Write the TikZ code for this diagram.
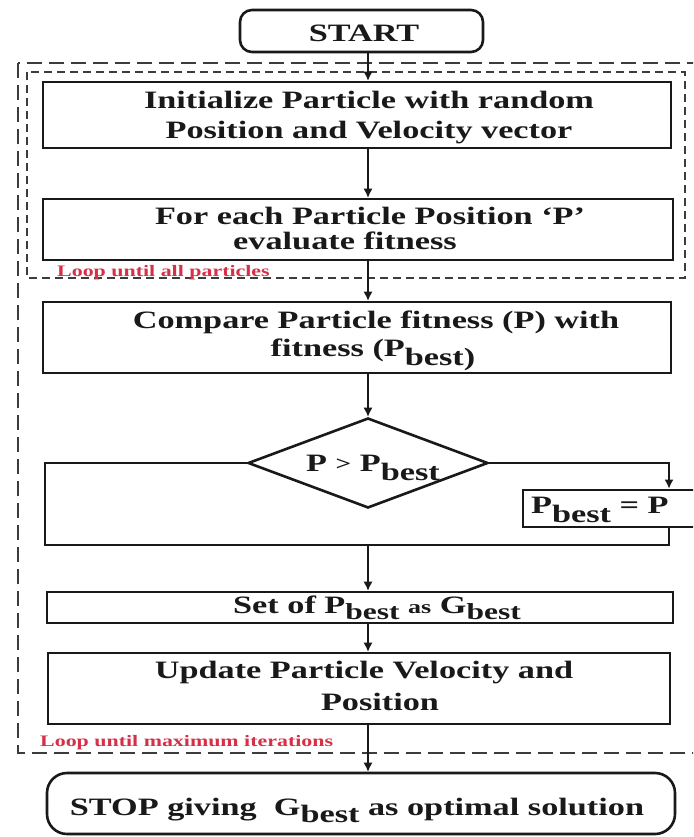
\documentclass[tikz,border=0pt]{standalone}
\usepackage{fontspec}
\setmainfont{Liberation Serif}
\usepackage{graphicx}
\usetikzlibrary{shapes.geometric,arrows.meta}
\definecolor{loopred}{RGB}{214,48,72}
\definecolor{dashgray}{RGB}{60,60,60}
\definecolor{ink}{RGB}{25,25,25}
\newcommand\sx[1]{\scalebox{1.37}[1]{#1}}
\newcommand\lowsub[2]{\raisebox{-#1}{#2}}
\begin{document}
\begin{tikzpicture}[x=1pt,y=-1pt,
  box/.style={draw=ink, line width=2.6pt, rectangle, inner sep=0pt},
  term/.style={draw=ink, line width=2.6pt, rectangle, rounded corners=12pt, inner sep=0pt},
  txt/.style={inner sep=0pt, anchor=base, text=ink, font=\fontsize{25}{30}\selectfont\bfseries},
  redtxt/.style={inner sep=0pt, anchor=base west, text=loopred, font=\fontsize{16}{18}\selectfont\bfseries},
  arr/.style={draw=ink, line width=1.2pt, -{Latex[length=9pt,width=9pt]}},
  loopline/.style={draw=ink, line width=2.6pt},
  outerdash/.style={draw=dashgray, line width=1.5pt, dash pattern=on 15pt off 7pt},
  innerdash/.style={draw=dashgray, line width=1.2pt, dash pattern=on 8pt off 5pt},
]
\useasboundingbox (0,0) rectangle (693,837);
\clip (0,0) rectangle (693,837);
\fill[white] (0,0) rectangle (693,837);

\coordinate (spine) at (368,0);

% dashed loop frames
\draw[outerdash] (18,63) rectangle (715,753);
\draw[innerdash] (27,72) rectangle (685,278);

% START
\node[term, minimum width=243pt, minimum height=42pt] (start) at (361.5,31) {};
\node[txt] (startT) at (364,42) {\sx{START}};

% Initialize
\node[box, minimum width=628pt, minimum height=66pt] (init) at (357,115) {};
\node[txt] (initA) at (369,109) {\sx{Initialize Particle with random}};
\node[txt] (initB) at (369,139) {\sx{Position and Velocity vector}};

% Evaluate
\node[box, minimum width=630pt, minimum height=61pt] (eval) at (358,229.5) {};
\node[txt] (evalA) at (370,224) {\sx{For each Particle Position `P'}};
\node[txt] (evalB) at (345,249) {\sx{evaluate fitness}};
\node[redtxt] (loopA) at (57,276) {\sx{Loop until all particles}};

% Compare
\node[box, minimum width=628pt, minimum height=71pt] (comp) at (357,337.5) {};
\node[txt] (compA) at (376,328) {\sx{Compare Particle fitness (P) with}};
\node[txt] (compB) at (373,356) {\sx{fitness (P\lowsub{9pt}{best)}}};

% Decision
\node[draw=ink, line width=2.6pt, diamond, inner sep=0pt, minimum width=240pt, minimum height=90pt] (dec) at (368,463) {};
\node[txt] (decT) at (373,471) {\sx{P {\fontsize{20}{24}\selectfont\raisebox{1pt}{>}} P\lowsub{9pt}{best}}};

% Pbest = P
\node[box, minimum width=200pt, minimum height=37pt] (pb) at (623,508.5) {};
\node[txt, anchor=base west] (pbT) at (531,513) {\sx{P\lowsub{9pt}{best} = P}};

% Set
\node[box, minimum width=626pt, minimum height=31pt] (set) at (360,607.5) {};
\node[txt] (setT) at (377,613) {\sx{Set of P\lowsub{6pt}{\fontsize{23}{24}\selectfont best} {\fontsize{19}{24}\selectfont as} G\lowsub{6pt}{\fontsize{23}{24}\selectfont best}}};

% Update
\node[box, minimum width=622pt, minimum height=71pt] (upd) at (359,688.5) {};
\node[txt] (updA) at (364,678) {\sx{Update Particle Velocity and}};
\node[txt] (updB) at (380,710) {\sx{Position}};
\node[redtxt] (loopB) at (40,746) {\sx{Loop until maximum iterations}};

% STOP
\node[term, rounded corners=20pt, minimum width=628pt, minimum height=61pt] (stop) at (361,803.5) {};
\node[txt] (stopT) at (357,815) {\sx{STOP giving \ G\lowsub{7pt}{best} as optimal solution}};

% loop around decision
\coordinate (LT) at (45,463);
\coordinate (LL) at (45,545);
\coordinate (LR) at (669,545);
\coordinate (RT) at (669,463);
\coordinate (LB) at (368,545);
\draw[loopline] (dec.west) -- (LT) -- (LL) -- (LR) -- (pb.south -| LR);
\draw[arr, line width=2pt] (dec.east) -- (RT) -- (pb.north -| RT);

% main connectors
\draw[arr] (start.south -| spine) -- (init.north -| spine);
\draw[arr] (init.south -| spine) -- (eval.north -| spine);
\draw[arr] (eval.south -| spine) -- (comp.north -| spine);
\draw[arr] (comp.south -| spine) -- (dec.north);
\draw[arr] (LB) -- (set.north -| LB);
\draw[arr] (set.south -| spine) -- (upd.north -| spine);
\draw[arr] (upd.south -| spine) -- (stop.north -| spine);
\end{tikzpicture}
\end{document}
